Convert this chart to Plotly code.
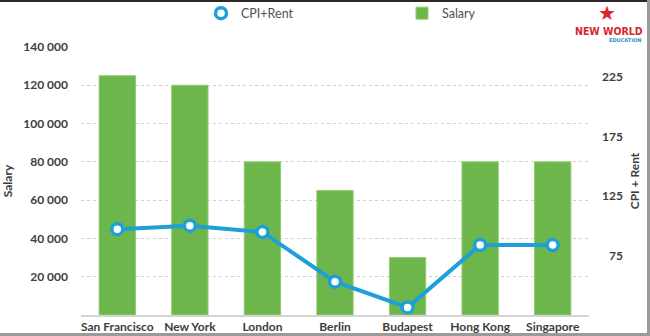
import plotly.graph_objects as go

# Cities, average salary (left axis) and CPI + Rent index (right axis)
cities = ["San Francisco", "New York", "London", "Berlin", "Budapest", "Hong Kong", "Singapore"]
salary = [125000, 120000, 80000, 65000, 30000, 80000, 80000]
cpi_rent = [97, 100, 94.6, 53, 31.4, 83.7, 83.7]

salary_ticks = [20000, 40000, 60000, 80000, 100000, 120000, 140000]
cpi_ticks = [75, 125, 175, 225]
cpi_tick_text = ["\u200775", "125", "175", "225"]

GREEN = "#6cb64b"
BLUE = "#1d9fd8"
TEXT = "#3d3d3d"
FONT = "Lato"

W, H = 650, 336
ML, MR, MT, MB = 81, 61, 47, 21
PW, PH = W - ML - MR, H - MT - MB


def px_x(x):
    return (x - ML) / PW


def px_y(y):
    return (H - MB - y) / PH


fig = go.Figure()

fig.add_trace(go.Bar(
    x=cities, y=salary, name="Salary",
    marker=dict(color=GREEN, line=dict(color="#8fcb72", width=1)),
    legend="legend2", yaxis="y",
))

# connecting line (no legend entry) and ring markers (legend entry)
fig.add_trace(go.Scatter(
    x=cities, y=cpi_rent, mode="lines", yaxis="y2",
    line=dict(color=BLUE, width=4), showlegend=False, hoverinfo="skip",
))
fig.add_trace(go.Scatter(
    x=cities, y=cpi_rent, mode="markers", name="CPI+Rent", yaxis="y2",
    marker=dict(symbol="circle", size=11, color="white",
                line=dict(color=BLUE, width=3.5)),
    legend="legend",
))

fig.update_layout(
    width=W, height=H,
    margin=dict(l=ML, r=MR, t=MT, b=MB, autoexpand=False),
    paper_bgcolor="white", plot_bgcolor="white",
    separators=". ",
    font=dict(family=FONT, color=TEXT, size=12),
    bargap=0.5,
    xaxis=dict(
        showgrid=False, showline=True, linecolor="#d4d4d4", linewidth=1.5,
        ticks="", tickfont=dict(size=12, weight="bold", color=TEXT),
        ticklabelstandoff=0, automargin=False,
    ),
    yaxis=dict(
        range=[0, 140000], tickvals=salary_ticks, tickformat=",d",
        showgrid=True, gridcolor="#cfcfcf", griddash="dot", gridwidth=1,
        zeroline=False, showline=False, ticks="",
        tickfont=dict(size=12, weight="bold", color=TEXT),
        ticklabelstandoff=12, automargin=False,
        title=dict(text="Salary", standoff=8,
                   font=dict(size=12, weight="bold", color=TEXT)),
    ),
    yaxis2=dict(
        range=[25, 250], overlaying="y", side="right",
        tickvals=cpi_ticks, ticktext=cpi_tick_text,
        showgrid=False, zeroline=False, showline=False, ticks="",
        tickfont=dict(size=12, weight="bold", color=TEXT),
        ticklabelstandoff=12, automargin=False,
        title=dict(text="CPI + Rent", standoff=8,
                   font=dict(size=12, weight="bold", color=TEXT)),
    ),
    legend=dict(
        x=px_x(201), y=px_y(13.5), xanchor="left", yanchor="middle",
        orientation="h", bgcolor="rgba(0,0,0,0)",
        font=dict(size=12.5, color="#505050"),
    ),
    legend2=dict(
        x=px_x(402), y=px_y(13.5), xanchor="left", yanchor="middle",
        orientation="h", bgcolor="rgba(0,0,0,0)",
        font=dict(size=12.5, color="#505050"),
    ),
    showlegend=True,
)

# logo in the top-right corner
fig.add_annotation(xref="paper", yref="paper", x=px_x(607), y=px_y(13),
                   xanchor="center", yanchor="middle",
                   text="★", showarrow=False,
                   font=dict(size=20, color="#d9262c", family="DejaVu Sans"))
fig.add_annotation(xref="paper", yref="paper", x=px_x(609), y=px_y(31),
                   xanchor="center", yanchor="middle",
                   text="NEW WORLD", showarrow=False,
                   font=dict(size=10.5, color="#d9262c", family="DejaVu Sans Condensed",
                             weight="bold"))
fig.add_annotation(xref="paper", yref="paper", x=px_x(625), y=px_y(40),
                   xanchor="center", yanchor="middle",
                   text="EDUCATION", showarrow=False,
                   font=dict(size=5, color="#1d8fd0", family="DejaVu Sans", weight="bold"))

# frame lines along the page edges
fig.add_shape(type="rect", xref="paper", yref="paper",
              x0=px_x(0), x1=px_x(W), y0=px_y(2), y1=px_y(0),
              fillcolor="#2a2a2a", line_width=0, layer="above")
fig.add_shape(type="rect", xref="paper", yref="paper",
              x0=px_x(647), x1=px_x(W), y0=px_y(H), y1=px_y(0),
              fillcolor="#9a9a9a", line_width=0, layer="above")
fig.add_shape(type="rect", xref="paper", yref="paper",
              x0=px_x(0), x1=px_x(W), y0=px_y(H), y1=px_y(333),
              fillcolor="#9a9a9a", line_width=0, layer="above")

fig.write_html("out.html")
